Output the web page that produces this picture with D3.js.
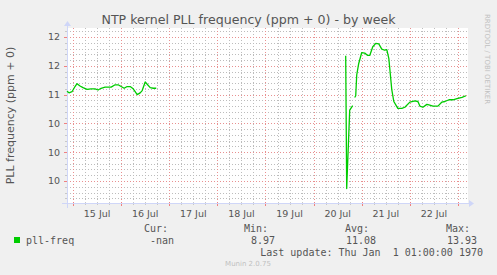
<!DOCTYPE html>
<html lang="en">
<head>
<meta charset="UTF-8">
<title>NTP kernel PLL frequency - by week</title>
<script src="https://d3js.org/d3.v7.min.js"></script>
<style>
  body { margin: 0; background: #F0F0F0; }
  svg { display: block; }
</style>
</head>
<body>
<svg id="chart" width="497" height="275"></svg>
<script>
  // samples (null = no data)
  const times = [
    "2024-07-14 21:00", "2024-07-14 22:00", "2024-07-14 23:30", "2024-07-15 01:00",
    "2024-07-15 02:00", "2024-07-15 03:30", "2024-07-15 05:00", "2024-07-15 07:00",
    "2024-07-15 09:00", "2024-07-15 11:00", "2024-07-15 12:30", "2024-07-15 14:00",
    "2024-07-15 16:00", "2024-07-15 19:00", "2024-07-15 21:00", "2024-07-15 22:30",
    "2024-07-16 00:00", "2024-07-16 01:30", "2024-07-16 03:00", "2024-07-16 04:30",
    "2024-07-16 06:00", "2024-07-16 07:00", "2024-07-16 08:00", "2024-07-16 09:30",
    "2024-07-16 10:30", "2024-07-16 12:00", "2024-07-16 13:00", "2024-07-16 14:30",
    "2024-07-16 16:00", "2024-07-16 17:30", "2024-07-16 18:00",
    "2024-07-20 15:30", "2024-07-20 16:00", "2024-07-20 16:30", "2024-07-20 18:00",
    "2024-07-20 19:30", "2024-07-20 20:00", "2024-07-20 20:30", "2024-07-20 21:00",
    "2024-07-20 21:30", "2024-07-20 22:30", "2024-07-21 00:00", "2024-07-21 01:30",
    "2024-07-21 03:00", "2024-07-21 04:00", "2024-07-21 05:30", "2024-07-21 07:00",
    "2024-07-21 08:30", "2024-07-21 10:00", "2024-07-21 11:30", "2024-07-21 12:30",
    "2024-07-21 13:30", "2024-07-21 15:00", "2024-07-21 16:00", "2024-07-21 17:30",
    "2024-07-21 18:00", "2024-07-21 20:00", "2024-07-21 21:30", "2024-07-22 00:00",
    "2024-07-22 02:30", "2024-07-22 04:00", "2024-07-22 05:00", "2024-07-22 06:30",
    "2024-07-22 08:30", "2024-07-22 09:30", "2024-07-22 11:30", "2024-07-22 14:00",
    "2024-07-22 16:00", "2024-07-22 17:30", "2024-07-22 19:30", "2024-07-22 21:30",
    "2024-07-22 23:30", "2024-07-23 02:00", "2024-07-23 04:00"
  ];
  const pllFreq = [
    11.06, 11.03, 11.05, 11.14,
    11.19, 11.15, 11.12, 11.09,
    11.10, 11.10, 11.08, 11.11,
    11.13, 11.13, 11.17, 11.17,
    11.14, 11.11, 11.14, 11.14,
    11.10, 11.05, 11.00, 11.03,
    11.07, 11.22, 11.18, 11.12,
    11.11, 11.11, null,
    null, 11.675, 9.37, 10.73,
    10.81, null, 10.95, 10.98,
    11.34, 11.54, 11.73, 11.72,
    11.68, 11.68, 11.83, 11.89,
    11.88, 11.79, 11.77, 11.78,
    11.63, 11.08, 10.88, 10.79,
    10.76, 10.76, 10.78, 10.87,
    10.89, 10.88, 10.80, 10.78,
    10.83, 10.82, 10.80, 10.80,
    10.87, 10.88, 10.91, 10.91,
    10.93, 10.95, 10.98
  ];

  const yTickValues = [9.5, 10, 10.5, 11, 11.5, 12];
  const yTickLabels = ["10", "10", "10", "11", "12", "12"];

  const legendHeads = ["Cur:", "Min:", "Avg:", "Max:"];
  const legendValues = ["-nan", "8.97", "11.08", "13.93"];
  const seriesName = "pll-freq";

  const parse = d3.timeParse("%Y-%m-%d %H:%M");
  const data = times.map((t, i) => ({ t: parse(t), v: pllFreq[i] }));

  const svg = d3.select("#chart");
  const plotL = 67, plotR = 468, plotT = 28, plotB = 203;

  const x = d3.scaleTime()
    .domain([parse("2024-07-14 21:00"), parse("2024-07-23 05:00")])
    .range([plotL, plotR]);
  const y = d3.scaleLinear()
    .domain([9.118, 12.156])
    .range([plotB, plotT]);

  const px = v => Math.round(v) + 0.5;

  // canvas
  svg.append("rect")
    .attr("x", plotL).attr("y", plotT)
    .attr("width", plotR - plotL).attr("height", plotB - plotT)
    .attr("fill", "#fff");

  // minor grid
  const minorY = d3.range(92, 122).map(d => d / 10).filter(d => Math.round(d * 10) % 5 !== 0);
  const minorX = x.ticks(d3.timeHour.every(6)).filter(d => d.getHours() !== 0);
  const majorX = x.ticks(d3.timeDay.every(1));

  const grid = svg.append("g").attr("fill", "none").attr("stroke-width", 1);
  grid.selectAll(".mnh").data(minorY).join("line")
    .attr("x1", plotL).attr("x2", plotR)
    .attr("y1", d => px(y(d))).attr("y2", d => px(y(d)))
    .attr("stroke", "#bcbcbc").attr("stroke-dasharray", "1,2");
  grid.selectAll(".mnv").data(minorX).join("line")
    .attr("x1", d => px(x(d))).attr("x2", d => px(x(d)))
    .attr("y1", plotT).attr("y2", plotB)
    .attr("stroke", "#bcbcbc").attr("stroke-dasharray", "1,2");
  grid.selectAll(".mjh").data(yTickValues).join("line")
    .attr("x1", plotL).attr("x2", plotR)
    .attr("y1", d => px(y(d))).attr("y2", d => px(y(d)))
    .attr("stroke", "#e89090").attr("stroke-dasharray", "1,2");
  grid.selectAll(".mjv").data(majorX).join("line")
    .attr("x1", d => px(x(d))).attr("x2", d => px(x(d)))
    .attr("y1", plotT).attr("y2", plotB)
    .attr("stroke", "#e89090").attr("stroke-dasharray", "1,2");

  // axis ticks below / left of the axes
  svg.append("g").selectAll("line").data(minorX).join("line")
    .attr("x1", d => px(x(d))).attr("x2", d => px(x(d)))
    .attr("y1", plotB - 1).attr("y2", plotB + 2)
    .attr("stroke", "#c8c8c8");
  svg.append("g").selectAll("line").data(majorX).join("line")
    .attr("x1", d => px(x(d))).attr("x2", d => px(x(d)))
    .attr("y1", plotB - 1).attr("y2", plotB + 3)
    .attr("stroke", "#f08080");
  svg.append("g").selectAll("line").data(minorY).join("line")
    .attr("x1", plotL - 2).attr("x2", plotL + 1)
    .attr("y1", d => px(y(d))).attr("y2", d => px(y(d)))
    .attr("stroke", "#c8c8c8");
  svg.append("g").selectAll("line").data(yTickValues).join("line")
    .attr("x1", plotL - 3).attr("x2", plotL + 1)
    .attr("y1", d => px(y(d))).attr("y2", d => px(y(d)))
    .attr("stroke", "#f08080");

  // axes with arrows
  const axisColor = "#cfd6f8";
  svg.append("line")
    .attr("x1", plotL - 5).attr("x2", plotR + 2)
    .attr("y1", plotB + 0.5).attr("y2", plotB + 0.5)
    .attr("stroke", axisColor);
  svg.append("path")
    .attr("d", `M${plotR + 1},${plotB - 3} L${plotR + 6},${plotB + 0.5} L${plotR + 1},${plotB + 4} Z`)
    .attr("fill", axisColor);
  svg.append("line")
    .attr("x1", plotL + 0.5).attr("x2", plotL + 0.5)
    .attr("y1", plotB + 5).attr("y2", plotT - 3)
    .attr("stroke", axisColor);
  svg.append("path")
    .attr("d", `M${plotL - 3},${plotT - 2} L${plotL + 0.5},${plotT - 7} L${plotL + 4},${plotT - 2} Z`)
    .attr("fill", axisColor);

  // data line
  const line = d3.line()
    .defined(d => d.v !== null)
    .x(d => x(d.t))
    .y(d => y(d.v));
  svg.append("path")
    .datum(data)
    .attr("d", line)
    .attr("fill", "none")
    .attr("stroke", "#00cc00")
    .attr("stroke-width", 1.3)
    .attr("stroke-linejoin", "round");

  // tick labels
  const sans = "'DejaVu Sans', sans-serif";
  const mono = "'DejaVu Sans Mono', monospace";
  svg.append("g").selectAll("text").data(yTickValues).join("text")
    .attr("x", plotL - 7).attr("y", d => y(d) + 3.5)
    .attr("text-anchor", "end")
    .attr("font-family", sans).attr("font-size", 9.5).attr("fill", "#555")
    .text((d, i) => yTickLabels[i]);

  const noons = majorX.map(d => d3.timeHour.offset(d, 12)).filter(d => x(d) < plotR);
  svg.append("g").selectAll("text").data(noons).join("text")
    .attr("x", d => x(d)).attr("y", 216.5)
    .attr("text-anchor", "middle")
    .attr("font-family", sans).attr("font-size", 9.5).attr("fill", "#555")
    .text(d3.timeFormat("%d %b"));

  // titles
  svg.append("text")
    .attr("x", 248.5).attr("y", 23.5)
    .attr("text-anchor", "middle")
    .attr("font-family", sans).attr("font-size", 12.6).attr("fill", "#555")
    .text("NTP kernel PLL frequency (ppm + 0) - by week");
  svg.append("text")
    .attr("transform", `translate(14,${(plotT + plotB) / 2}) rotate(-90)`)
    .attr("text-anchor", "middle")
    .attr("font-family", sans).attr("font-size", 11).attr("fill", "#555")
    .text("PLL frequency (ppm + 0)");
  svg.append("text")
    .attr("transform", "translate(485,14) rotate(90)")
    .attr("font-family", sans).attr("font-size", 7).attr("fill", "#c0c0c0")
    .text("RRDTOOL / TOBI OETIKER");

  // legend
  const colEnds = [168, 268, 369, 470];
  const valEnds = [174, 275, 376, 477];
  svg.append("g").selectAll("text").data(legendHeads).join("text")
    .attr("x", (d, i) => colEnds[i]).attr("y", 231.5)
    .attr("text-anchor", "end")
    .attr("font-family", mono).attr("font-size", 10).attr("fill", "#555")
    .text(d => d);
  svg.append("g").selectAll("text").data(legendValues).join("text")
    .attr("x", (d, i) => valEnds[i]).attr("y", 243.5)
    .attr("text-anchor", "end")
    .attr("font-family", mono).attr("font-size", 10).attr("fill", "#555")
    .text(d => d);
  svg.append("rect")
    .attr("x", 14).attr("y", 237).attr("width", 6).attr("height", 6)
    .attr("fill", "#00cc00");
  svg.append("text")
    .attr("x", 26).attr("y", 243.5)
    .attr("font-family", mono).attr("font-size", 10).attr("fill", "#555")
    .text(seriesName);
  svg.append("text")
    .attr("x", 483).attr("y", 255.5)
    .attr("text-anchor", "end")
    .attr("xml:space", "preserve").style("white-space", "pre")
    .attr("font-family", mono).attr("font-size", 10).attr("fill", "#555")
    .text("Last update: Thu Jan  1 01:00:00 1970");
  svg.append("text")
    .attr("x", 248).attr("y", 266)
    .attr("text-anchor", "middle")
    .attr("font-family", sans).attr("font-size", 7).attr("fill", "#c0c0c0")
    .text("Munin 2.0.75");
</script>
</body>
</html>
